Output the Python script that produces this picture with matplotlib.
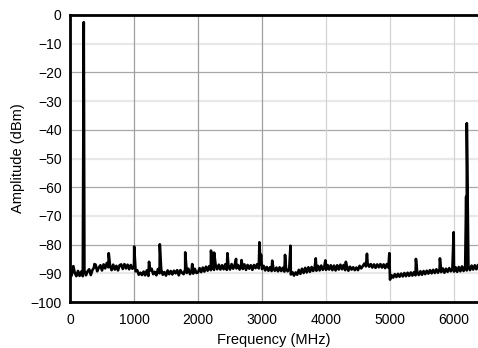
import numpy as np
import matplotlib
matplotlib.use('Agg')
import matplotlib.pyplot as plt

plt.rcParams['font.family'] = ['Liberation Sans', 'DejaVu Sans']

# noise floor, 25 MHz steps from 0 to 6400 MHz
floor_step = 25
floor_db = [
    -88.6, -90.8, -87.8, -89.9, -91.0, -89.2, -90.9, -89.4,
    -91.0, -89.0, -90.7, -89.3, -88.6, -90.6, -88.9, -88.0,
    -87.0, -89.3, -88.0, -87.2, -89.0, -86.9, -88.3, -86.4,
    -87.9, -87.2, -88.9, -87.0, -88.7, -87.4, -89.0, -87.2,
    -86.9, -88.5, -86.8, -88.3, -87.0, -88.6, -87.1, -88.4,
    # 1000
    -87.9, -89.3, -88.9, -90.5, -89.8, -90.6, -89.4, -90.7,
    -89.0, -90.9, -89.1, -88.4, -90.3, -89.5, -90.7, -88.5,
    -90.0, -88.7, -90.5, -89.6, -90.8, -89.0, -90.3, -89.2,
    -90.4, -89.1, -90.0, -88.9, -90.7, -88.9, -89.8, -90.3,
    -88.6, -89.9, -88.4, -90.3, -88.9, -90.1, -88.4, -89.9,
    # 2000
    -89.7, -88.2, -89.6, -88.0, -89.4, -87.7, -89.1, -87.5,
    -88.9, -87.3, -88.8, -87.1, -88.6, -87.0, -88.7, -87.2,
    -88.6, -86.9, -88.8, -87.2, -88.7, -86.8, -88.4, -87.0,
    -88.3, -87.1, -88.7, -87.0, -88.5, -86.9, -88.8, -87.1,
    -88.4, -87.2, -88.8, -87.1, -88.2, -86.8, -88.3, -86.9,
    # 3000
    -88.5, -87.4, -89.0, -87.8, -89.1, -87.9, -89.2, -88.0,
    -89.1, -88.0, -89.3, -87.9, -89.2, -88.1, -89.4, -88.2,
    -89.3, -88.6, -90.4, -89.6, -90.8, -89.7, -90.5, -88.8,
    -90.2, -88.4, -89.9, -88.1, -89.7, -87.9, -89.5, -87.8,
    -89.2, -87.7, -89.1, -87.4, -89.0, -87.3, -88.8, -87.4,
    # 4000
    -88.8, -87.1, -88.7, -87.2, -88.9, -87.3, -89.0, -87.2,
    -88.7, -87.0, -88.6, -87.1, -88.9, -87.4, -89.1, -87.7,
    -88.7, -87.9, -88.9, -88.0, -88.9, -87.4, -88.3, -87.5,
    -86.6, -87.6, -86.5, -87.7, -86.8, -88.0, -86.9, -88.1,
    -86.9, -87.9, -86.8, -88.0, -86.9, -88.2, -86.8, -88.0,
    # 5000
    -92.2, -90.7, -91.5, -90.3, -91.3, -90.2, -91.2, -90.1,
    -91.1, -89.9, -91.0, -89.8, -90.9, -89.7, -90.8, -89.6,
    -90.7, -89.5, -90.6, -89.3, -90.5, -89.2, -90.3, -89.1,
    -90.1, -88.9, -90.0, -88.8, -89.9, -88.6, -89.8, -88.5,
    -89.6, -88.3, -89.8, -88.4, -89.5, -88.2, -89.3, -88.3,
    # 6000
    -89.4, -87.9, -89.5, -87.8, -89.3, -87.6, -89.2, -87.5,
    -89.0, -87.4, -88.9, -87.3, -88.7, -87.2, -88.6, -87.1, -88.2,
]

# spurs / tones
spur_mhz = [52, 215, 382, 605, 1003, 1235, 1403, 1800, 1910, 2203, 2252,
            2460, 2595, 2680, 2960, 2985, 3160, 3360, 3445, 3840, 3990,
            4310, 4640, 4990, 5405, 5780, 5995, 6190, 6200]
spur_db = [-87.5, -2.5, -86.8, -83.0, -80.7, -86.0, -79.9, -82.7, -86.8, -82.1, -82.8,
           -83.0, -85.0, -85.4, -79.2, -83.5, -85.6, -83.6, -80.4, -84.8, -85.5,
           -86.0, -83.2, -83.0, -85.0, -84.8, -75.7, -63.3, -37.7]

floor_mhz = np.arange(len(floor_db)) * floor_step
freq = np.concatenate([floor_mhz, spur_mhz])
amp = np.concatenate([floor_db, spur_db])
order = np.argsort(freq, kind='stable')
freq = freq[order]
amp = amp[order]

fig = plt.figure(figsize=(4.78, 3.48), dpi=100)
ax = fig.add_axes([70/478, 1-302/348, 1-70/478, (302-15)/348])

# grid
for y in [-10, -30, -50, -70, -90]:
    ax.axhline(y, color='#e8e8e8', lw=1.6, zorder=0)
for y in [-20, -40, -60, -80]:
    ax.axhline(y, color='#a8a8a8', lw=0.9, zorder=0)
for x in [1000, 2000, 3000]:
    ax.axvline(x, color='#a0a0a0', lw=0.9, zorder=0)
for x in [4000, 5000, 6000]:
    ax.axvline(x, color='#d4d4d4', lw=0.9, zorder=0)

ax.plot(freq, amp, color='black', lw=1.9, zorder=3)

ax.set_xlim(0, 6375)
ax.set_ylim(-100, 0)
ax.set_xticks(np.arange(0, 7000, 1000))
ax.set_yticks(np.arange(-100, 1, 10))
ax.tick_params(length=0, labelsize=10, colors='black')
ax.tick_params(axis='y', pad=6)
ax.tick_params(axis='x', pad=8)
ax.set_xlabel('Frequency (MHz)', fontsize=10.5, labelpad=4)
ax.set_ylabel('Amplitude (dBm)', fontsize=10.5, labelpad=4)

for s in ['left', 'bottom', 'top']:
    ax.spines[s].set_linewidth(2.0)
    ax.spines[s].set_color('black')
ax.spines['right'].set_visible(False)

fig.savefig('out.png', dpi=100)
